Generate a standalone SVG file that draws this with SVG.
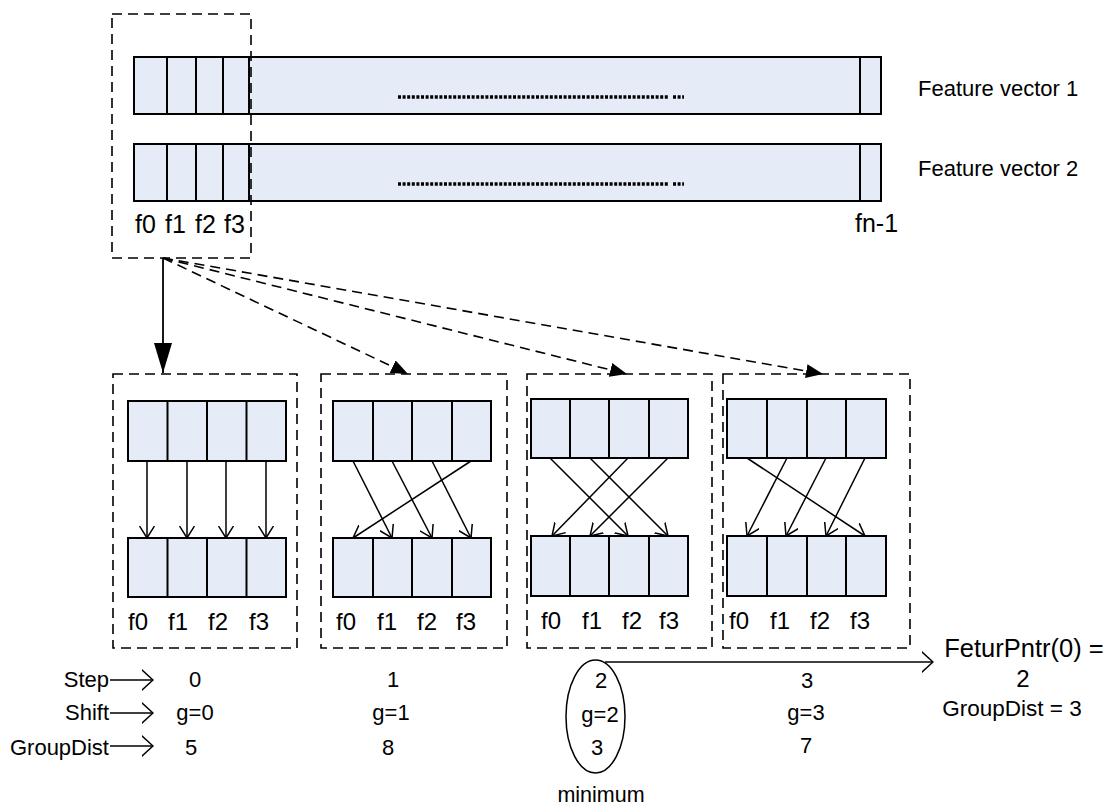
<svg xmlns="http://www.w3.org/2000/svg" width="1108" height="810" viewBox="0 0 1108 810">
<style>
.cell{fill:#E5ECF7;stroke:#000;stroke-width:2}
.div{stroke:#000;stroke-width:2}
.dbox{fill:none;stroke:#000;stroke-width:1.6;stroke-dasharray:10 6}
.t{font-family:"Liberation Sans",Arial,sans-serif;fill:#000}
.thin{stroke:#000;stroke-width:1.5;fill:none}
.dash{stroke:#000;stroke-width:1.6;fill:none;stroke-dasharray:10 6}
.dots{stroke:#000;stroke-width:3.5;stroke-dasharray:3 1.6;fill:none}
</style>
<defs>
<marker id="vhead" viewBox="0 0 12 16" refX="12" refY="8" markerWidth="12" markerHeight="16" markerUnits="userSpaceOnUse" orient="auto">
<path d="M0,0.5 L12,8 L0,15.5" fill="none" stroke="#000" stroke-width="1.5"/>
</marker>
<marker id="bighead" viewBox="0 0 12 22" refX="11.5" refY="11" markerWidth="12" markerHeight="22" markerUnits="userSpaceOnUse" orient="auto">
<path d="M0,0.5 L11.5,11 L0,21.5" fill="none" stroke="#000" stroke-width="1.5"/>
</marker>
<marker id="solidhead" viewBox="0 0 30 18" refX="30" refY="9" markerWidth="30" markerHeight="18" markerUnits="userSpaceOnUse" orient="auto">
<path d="M0,0 L30,9 L0,18 Z" fill="#000"/>
</marker>
<marker id="dashhead" viewBox="0 0 17 14" refX="17" refY="7" markerWidth="17" markerHeight="14" markerUnits="userSpaceOnUse" orient="auto">
<path d="M0,0 L17,7 L0,14 Z" fill="#000"/>
</marker>
</defs>
<rect width="1108" height="810" fill="#fff"/>

<g id="fv1">
<rect class="cell" x="134" y="57" width="747" height="57"/>
<line class="div" x1="167" y1="57" x2="167" y2="114"/>
<line class="div" x1="196" y1="57" x2="196" y2="114"/>
<line class="div" x1="223" y1="57" x2="223" y2="114"/>
<line class="div" x1="249" y1="57" x2="249" y2="114"/>
<line class="div" x1="860" y1="57" x2="860" y2="114"/>
<line class="dots" x1="398" y1="97" x2="669" y2="97"/>
<line class="dots" x1="673" y1="97" x2="684" y2="97" stroke-dasharray="3 5"/>
<text class="t" x="918" y="96" font-size="22">Feature vector 1</text>
</g>

<g id="fv2">
<rect class="cell" x="134" y="144" width="747" height="57"/>
<line class="div" x1="167" y1="144" x2="167" y2="201"/>
<line class="div" x1="196" y1="144" x2="196" y2="201"/>
<line class="div" x1="223" y1="144" x2="223" y2="201"/>
<line class="div" x1="249" y1="144" x2="249" y2="201"/>
<line class="div" x1="860" y1="144" x2="860" y2="201"/>
<line class="dots" x1="398" y1="184" x2="669" y2="184"/>
<line class="dots" x1="673" y1="184" x2="684" y2="184" stroke-dasharray="3 5"/>
<text class="t" x="918" y="176" font-size="22">Feature vector 2</text>
</g>

<g id="top-labels" class="t" font-size="25">
<text x="135" y="233">f0</text>
<text x="165" y="233">f1</text>
<text x="195" y="233">f2</text>
<text x="224" y="233">f3</text>
<text x="855" y="232">fn-1</text>
</g>

<g id="top-group">
<rect class="dbox" x="112" y="14" width="139" height="244"/>
</g>

<g id="panel0">
<rect class="dbox" x="113" y="374" width="184" height="274"/>
<rect class="cell" x="128" y="401" width="158" height="60"/>
<line class="div" x1="167.5" y1="401" x2="167.5" y2="461"/>
<line class="div" x1="207" y1="401" x2="207" y2="461"/>
<line class="div" x1="246.5" y1="401" x2="246.5" y2="461"/>
<rect class="cell" x="128" y="538" width="158" height="59"/>
<line class="div" x1="167.5" y1="538" x2="167.5" y2="597"/>
<line class="div" x1="207" y1="538" x2="207" y2="597"/>
<line class="div" x1="246.5" y1="538" x2="246.5" y2="597"/>
<line class="thin" x1="147" y1="461" x2="147" y2="538" marker-end="url(#vhead)"/>
<line class="thin" x1="187" y1="461" x2="187" y2="538" marker-end="url(#vhead)"/>
<line class="thin" x1="226" y1="461" x2="226" y2="538" marker-end="url(#vhead)"/>
<line class="thin" x1="266" y1="461" x2="266" y2="538" marker-end="url(#vhead)"/>
<g class="t" font-size="24">
<text x="128" y="630">f0</text>
<text x="168" y="630">f1</text>
<text x="208" y="630">f2</text>
<text x="249" y="630">f3</text>
</g>
</g>

<g id="panel1">
<rect class="dbox" x="321" y="374" width="186" height="274"/>
<rect class="cell" x="333" y="401" width="158" height="60"/>
<line class="div" x1="373" y1="401" x2="373" y2="461"/>
<line class="div" x1="412" y1="401" x2="412" y2="461"/>
<line class="div" x1="452" y1="401" x2="452" y2="461"/>
<rect class="cell" x="333" y="538" width="158" height="59"/>
<line class="div" x1="373" y1="538" x2="373" y2="597"/>
<line class="div" x1="412" y1="538" x2="412" y2="597"/>
<line class="div" x1="452" y1="538" x2="452" y2="597"/>
<line class="thin" x1="353" y1="461" x2="392" y2="538" marker-end="url(#vhead)"/>
<line class="thin" x1="392" y1="461" x2="432" y2="538" marker-end="url(#vhead)"/>
<line class="thin" x1="432" y1="461" x2="471" y2="538" marker-end="url(#vhead)"/>
<line class="thin" x1="471" y1="461" x2="353" y2="538" marker-end="url(#vhead)"/>
<g class="t" font-size="24">
<text x="336" y="630">f0</text>
<text x="377" y="630">f1</text>
<text x="417" y="630">f2</text>
<text x="456" y="630">f3</text>
</g>
</g>

<g id="panel2">
<rect class="dbox" x="527" y="374" width="185" height="274"/>
<rect class="cell" x="531" y="399" width="157" height="59"/>
<line class="div" x1="570" y1="399" x2="570" y2="458"/>
<line class="div" x1="609" y1="399" x2="609" y2="458"/>
<line class="div" x1="649" y1="399" x2="649" y2="458"/>
<rect class="cell" x="531" y="536" width="157" height="60"/>
<line class="div" x1="570" y1="536" x2="570" y2="596"/>
<line class="div" x1="609" y1="536" x2="609" y2="596"/>
<line class="div" x1="649" y1="536" x2="649" y2="596"/>
<line class="thin" x1="550" y1="458" x2="628" y2="536" marker-end="url(#vhead)"/>
<line class="thin" x1="590" y1="458" x2="668" y2="536" marker-end="url(#vhead)"/>
<line class="thin" x1="628" y1="458" x2="552" y2="536" marker-end="url(#vhead)"/>
<line class="thin" x1="668" y1="458" x2="590" y2="536" marker-end="url(#vhead)"/>
<g class="t" font-size="24">
<text x="541" y="629">f0</text>
<text x="582" y="629">f1</text>
<text x="622" y="629">f2</text>
<text x="659" y="629">f3</text>
</g>
</g>

<g id="panel3">
<rect class="dbox" x="723" y="374" width="187" height="274"/>
<rect class="cell" x="727" y="399" width="159" height="59"/>
<line class="div" x1="767" y1="399" x2="767" y2="458"/>
<line class="div" x1="807" y1="399" x2="807" y2="458"/>
<line class="div" x1="846" y1="399" x2="846" y2="458"/>
<rect class="cell" x="727" y="536" width="159" height="60"/>
<line class="div" x1="767" y1="536" x2="767" y2="596"/>
<line class="div" x1="807" y1="536" x2="807" y2="596"/>
<line class="div" x1="846" y1="536" x2="846" y2="596"/>
<line class="thin" x1="747" y1="458" x2="865" y2="536" marker-end="url(#vhead)"/>
<line class="thin" x1="787" y1="458" x2="747" y2="536" marker-end="url(#vhead)"/>
<line class="thin" x1="826" y1="458" x2="786" y2="536" marker-end="url(#vhead)"/>
<line class="thin" x1="865" y1="458" x2="826" y2="536" marker-end="url(#vhead)"/>
<g class="t" font-size="24">
<text x="729" y="629">f0</text>
<text x="770" y="629">f1</text>
<text x="810" y="629">f2</text>
<text x="850" y="629">f3</text>
</g>
</g>

<g id="connectors">
<line x1="163" y1="258" x2="163" y2="373" stroke="#000" stroke-width="1.8" marker-end="url(#solidhead)"/>
<line class="dash" x1="163" y1="258" x2="408" y2="374" marker-end="url(#dashhead)"/>
<line class="dash" x1="163" y1="258" x2="627" y2="374" marker-end="url(#dashhead)"/>
<line class="dash" x1="163" y1="258" x2="823" y2="374" marker-end="url(#dashhead)"/>
<line class="thin" x1="110" y1="680" x2="153" y2="680" marker-end="url(#bighead)"/>
<line class="thin" x1="110" y1="713" x2="153" y2="713" marker-end="url(#bighead)"/>
<line class="thin" x1="110" y1="746" x2="153" y2="746" marker-end="url(#bighead)"/>
<line class="thin" x1="605" y1="662" x2="933" y2="662" marker-end="url(#bighead)"/>
</g>

<g id="row-labels" class="t" font-size="22" text-anchor="end">
<text x="109" y="687">Step</text>
<text x="109" y="720">Shift</text>
<text x="109" y="755">GroupDist</text>
</g>

<g id="step0" class="t" font-size="22" text-anchor="middle">
<text x="195" y="687">0</text>
<text x="195" y="720">g=0</text>
<text x="191" y="755">5</text>
</g>
<g id="step1" class="t" font-size="22" text-anchor="middle">
<text x="393" y="687">1</text>
<text x="391" y="720">g=1</text>
<text x="388" y="755">8</text>
</g>
<g id="step2">
<ellipse cx="595.5" cy="716.5" rx="29.5" ry="56.5" fill="none" stroke="#000" stroke-width="1.5"/>
<g class="t" font-size="22" text-anchor="middle">
<text x="601" y="688">2</text>
<text x="600" y="722">g=2</text>
<text x="597" y="755">3</text>
</g>
<text class="t" x="601" y="802" font-size="21.5" text-anchor="middle">minimum</text>
</g>
<g id="step3" class="t" font-size="22" text-anchor="middle">
<text x="807" y="688">3</text>
<text x="806" y="720">g=3</text>
<text x="806" y="753">7</text>
</g>

<g id="result" class="t" text-anchor="middle">
<text x="1024" y="657" font-size="25.5">FeturPntr(0) =</text>
<text x="1023" y="687" font-size="24">2</text>
<text x="1012" y="716" font-size="22.5">GroupDist = 3</text>
</g>
</svg>
